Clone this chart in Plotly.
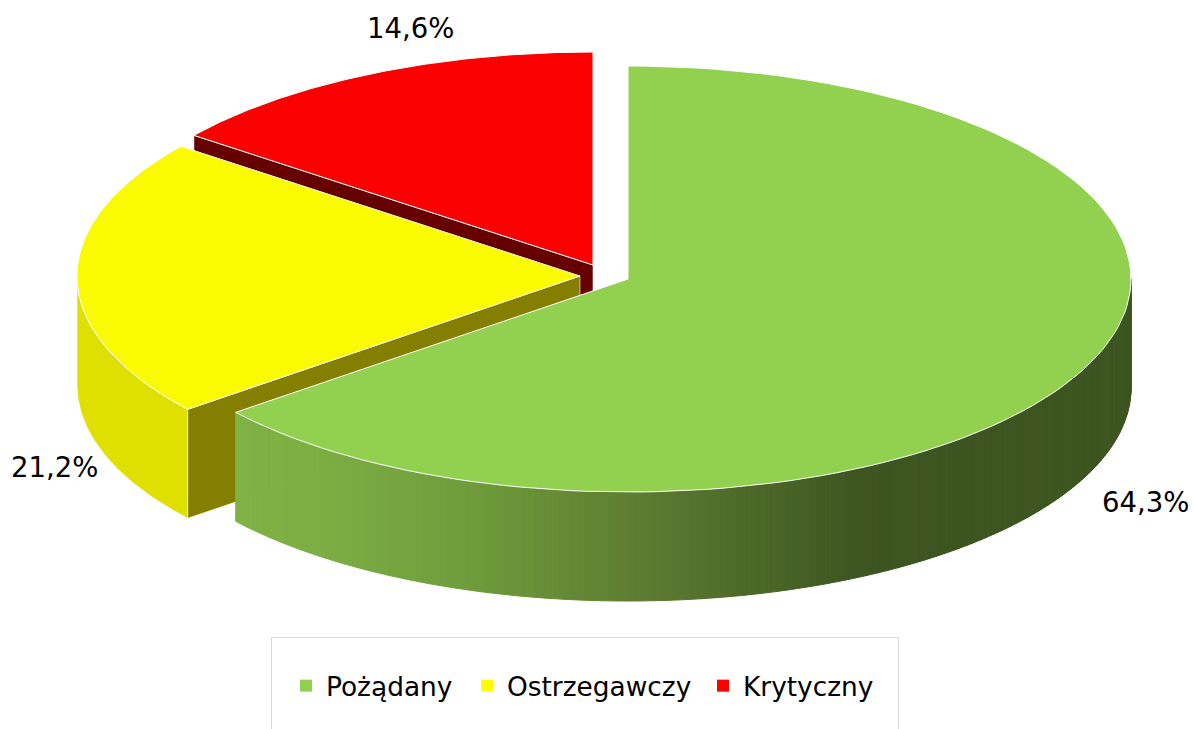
import numpy as np
import plotly.graph_objects as go

categories = ["Pożądany", "Ostrzegawczy", "Krytyczny"]
values = [64.3, 21.2, 14.6]
value_labels = ["64,3%", "21,2%", "14,6%"]
top_colors = ["#92D050", "#FAFA00", "#FA0000"]
marker_colors = ["#92D050", "#FFFF00", "#FF0000"]
cut_colors = ["#7FB143", "#857F00", "#660000"]
outer_colors = ["#3D5520", "#E0E000", "#990000"]

# projected pie geometry (pixel-based axes)
CENTERS = [(628, 279), (580, 276), (593, 265)]
RX, RY, DEPTH = 503, 213, 109
GRAD_STOPS = [(234, "#7FB245"), (330, "#7CAD43"), (480, "#6E9A3B"),
              (630, "#5E7E32"), (860, "#3D5520"), (1140, "#3D5520")]
LABEL_POS = [(1145, 502), (54, 467), (410, 28)]
LEGEND_POS = [(286, 686), (467, 686), (703, 686)]
FONT = "DejaVu Sans"

total = sum(values)
edges = np.concatenate([[0], np.cumsum(values)]) / total * 2 * np.pi


def arc(c, a0, a1, n=120, dy=0):
    t = np.linspace(a0, a1, n)
    return c[0] + RX * np.sin(t), c[1] - RY * np.cos(t) + dy


def hex_mix(x):
    xs = [s[0] for s in GRAD_STOPS]
    rgb = [[int(s[1][i:i + 2], 16) for i in (1, 3, 5)] for s in GRAD_STOPS]
    v = [int(round(np.interp(x, xs, [c[k] for c in rgb]))) for k in range(3)]
    return "rgb(%d,%d,%d)" % tuple(v)


def poly(fig, x, y, fill, line=None, width=1):
    fig.add_trace(go.Scatter(
        x=list(x) + [x[0]], y=list(y) + [y[0]], mode="lines", fill="toself",
        fillcolor=fill, line=dict(color=line or fill, width=width),
        showlegend=False, hoverinfo="skip"))


def top(fig, i):
    c = CENTERS[i]
    ax, ay = arc(c, edges[i], edges[i + 1])
    poly(fig, np.r_[c[0], ax], np.r_[c[1], ay], top_colors[i], "#FFFFFF", 1)


def cut(fig, i, angle):
    c = CENTERS[i]
    ex, ey = c[0] + RX * np.sin(angle), c[1] - RY * np.cos(angle)
    poly(fig, [c[0], ex, ex, c[0]], [c[1], ey, ey + DEPTH, c[1] + DEPTH],
         cut_colors[i], "#FFFFFF", 0.6)


fig = go.Figure()

# red slice: start-edge cut face, then top
cut(fig, 2, edges[2])
top(fig, 2)

# yellow slice: outer wall, cut face, top
lo = edges[1]
hi = 1.5 * np.pi
x1, y1 = arc(CENTERS[1], lo, hi, 60)
x2, y2 = arc(CENTERS[1], hi, lo, 60, DEPTH)
poly(fig, np.r_[x1, x2], np.r_[y1, y2], outer_colors[1], "#FFFFFF", 0.6)
cut(fig, 1, edges[1])
top(fig, 1)

# green slice: outer wall with left-to-right shading, then top
ts = np.linspace(0.5 * np.pi, edges[1], 200)
for a, b in zip(ts[:-1], ts[1:]):
    xa, ya = arc(CENTERS[0], a, b, 5)
    xb, yb = arc(CENTERS[0], b, a, 5, DEPTH)
    poly(fig, np.r_[xa, xb], np.r_[ya, yb], hex_mix(0.5 * (xa[0] + xa[-1])))
top(fig, 0)

# legend entries, one real legend each so the spacing can follow the reference
for i, name in enumerate(categories):
    lg = "legend" if i == 0 else f"legend{i + 1}"
    fig.add_trace(go.Scatter(
        x=[None], y=[None], mode="markers", name=name, legend=lg,
        marker=dict(symbol="square", size=12, color=marker_colors[i]),
        showlegend=True))

W, H = 1193, 729
legends = {}
for i, (lx, ly) in enumerate(LEGEND_POS):
    key = "legend" if i == 0 else f"legend{i + 1}"
    legends[key] = dict(x=lx / W, y=1 - ly / H, xanchor="left", yanchor="middle",
                        bgcolor="rgba(0,0,0,0)", borderwidth=0,
                        font=dict(family=FONT, size=26.4, color="#000000"))

annotations = [dict(x=p[0], y=p[1], text=t, showarrow=False, xref="x", yref="y",
                    font=dict(family=FONT, size=27.5, color="#000000"))
               for p, t in zip(LABEL_POS, value_labels)]

fig.update_layout(
    width=W, height=H, margin=dict(l=0, r=0, t=0, b=0),
    paper_bgcolor="#FFFFFF", plot_bgcolor="#FFFFFF",
    xaxis=dict(range=[0, W], visible=False, fixedrange=True),
    yaxis=dict(range=[H, 0], visible=False, fixedrange=True),
    annotations=annotations,
    shapes=[dict(type="rect", xref="x", yref="y", x0=271.5, x1=898.5, y0=637.5, y1=780,
                 line=dict(color="#D9D9D9", width=1), layer="below")],
    **legends,
)
fig.write_html("out.html", config=dict(displayModeBar=False),
               post_script="document.body.style.margin='0';document.body.style.overflow='hidden';")
